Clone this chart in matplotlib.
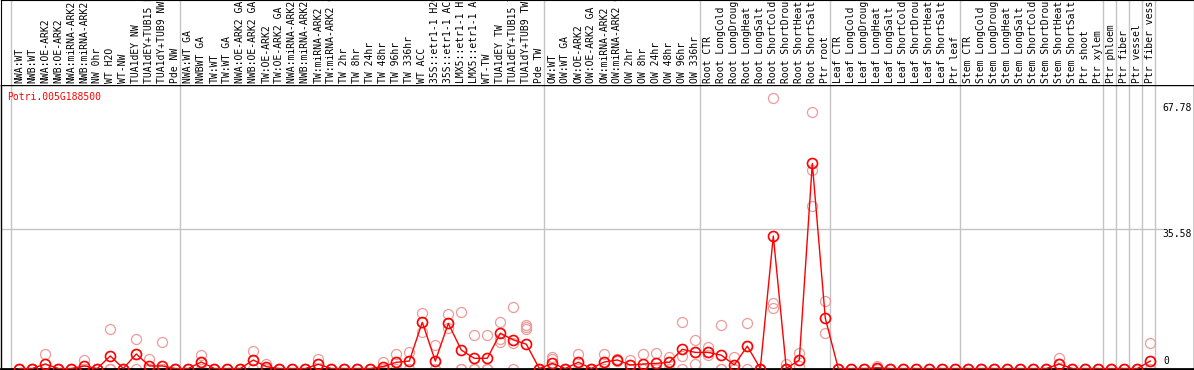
import numpy as np
import matplotlib.pyplot as plt
import matplotlib.transforms as mtransforms

# sample names (top strip)
samples = [
    "NWA:WT", "NWB:WT", "NWA:OE-ARK2", "NWB:OE-ARK2", "NWA:miRNA-ARK2", "NWB:miRNA-ARK2",
    "NW 0hr", "WT H2O", "WT-NW", "TUA1dEY NW", "TUA1dEY+TUB15 NW", "TUA1dY+TUB9 NW", "Pde NW",
    "NWA:WT GA", "NWBWT GA", "TW:WT", "TW:WT GA", "NWA:OE-ARK2 GA", "NWB:OE-ARK2 GA",
    "TW:OE-ARK2", "TW:OE-ARK2 GA", "NWA:miRNA-ARK2 GA", "NWB:miRNA-ARK2 GA", "TW:miRNA-ARK2",
    "TW:miRNA-ARK2 GA", "TW 2hr", "TW 8hr", "TW 24hr", "TW 48hr", "TW 96hr", "TW 336hr",
    "WT ACC", "35S::etr1-1 H2O", "35S::etr1-1 ACC", "LMX5::etr1-1 H2O", "LMX5::etr1-1 ACC",
    "WT-TW", "TUA1dEY TW", "TUA1dEY+TUB15 TW", "TUA1dY+TUB9 TW", "Pde TW",
    "OW:WT", "OW:WT GA", "OW:OE-ARK2", "OW:OE-ARK2 GA", "OW:miRNA-ARK2", "OW:miRNA-ARK2 GA",
    "OW 2hr", "OW 8hr", "OW 24hr", "OW 48hr", "OW 96hr", "OW 336hr",
    "Root CTR", "Root LongCold", "Root LongDrought", "Root LongHeat", "Root LongSalt",
    "Root ShortCold", "Root ShortDrought", "Root ShortHeat", "Root ShortSalt", "Ptr root",
    "Leaf CTR", "Leaf LongCold", "Leaf LongDrought", "Leaf LongHeat", "Leaf LongSalt",
    "Leaf ShortCold", "Leaf ShortDrought", "Leaf ShortHeat", "Leaf ShortSalt", "Ptr leaf",
    "Stem CTR", "Stem LongCold", "Stem LongDrought", "Stem LongHeat", "Stem LongSalt",
    "Stem ShortCold", "Stem ShortDrought", "Stem ShortHeat", "Stem ShortSalt", "Ptr shoot",
    "Ptr xylem", "Ptr phloem", "Ptr fiber", "Ptr vessel", "Ptr fiber vessel",
]
group_sizes = [13, 28, 12, 10, 10, 11, 1, 1, 1, 1]

gene = "Potri.005G188500"
tick_values = [67.78, 35.58, 0]

# mean expression per sample
mean = [
    0, 0, 1.15, 0, 0, 0.64, 0, 3.2, 0, 3.7, 0.64, 0.64, 0,
    0, 1.66, 0, 0, 0, 2.17, 0.46, 0, 0, 0, 1.1, 0, 0, 0, 0, 0.5, 1.58, 1.9,
    11.8, 1.9, 11.5, 4.7, 2.6, 2.6, 9.0, 7.3, 6.2, 0,
    1.3, 0, 1.6, 0, 1.66, 2.17, 0.9, 1.15, 1.3, 1.6, 4.9, 4.1,
    4.1, 3.4, 0.9, 5.7, 0, 33.8, 0, 2.17, 52.3, 12.8,
    0, 0, 0, 0.2, 0, 0, 0, 0, 0, 0,
    0, 0, 0, 0, 0, 0, 0, 1.15, 0, 0, 0,
    0, 0, 0, 1.9,
]

nan = np.nan
# individual replicates
rep_a = [
    3.7 * 0, 0, 3.7, 0, 0, 2.2, 0, 10.0, 0, 7.4, 2.3, 6.7, 0,
    0, 3.4, 0, 0, 0, 4.5, 1.15, 0, 0, 0, 2.5, 0, 0, 0, 0, 1.6, 3.7, 4.1,
    14.1, 6.0, 13.9, 14.3, 8.5, 8.5, 11.8, 15.8, 11.1, 0,
    2.85, 0, 3.6, 0, 3.7, 2.3, 2.2, 3.7, 4.0, 3.0, 11.8, 7.3,
    5.4, 11.1, 2.85, 11.5, 0, 68.9, 1.15, 3.9, 65.4, 17.2,
    0, 0, 0, 0.6, 0, 0, 0, 0, 0, 0,
    0, 0, 0, 0, 0, 0, 0, 2.6, 0, 0, 0,
    0, 0, 0, 6.4,
]
rep_b = [
    0, 0, 0, 0, 0, 0, 0, 0, 0, 3.7, 0, 0, 0,
    0, 1.66, 0, 0, 0, 2.17, 0, 0, 0, 0, 1.1, 0, 0, 0, 0, 0, 1.58, 1.9,
    11.8, 1.9, 11.5, 0, 0, 0, 7.5, 6.6, 10.5, 0,
    2.4, 0, 1.6, 0, 1.66, 2.17, 0.9, 0, 0, 1.6, 3.2, 4.1,
    3.4, 0, 0, 5.7, 0, 16.8, 0, 2.17, 50.6, 9.0,
    0, 0, 0, 0, 0, 0, 0, 0, 0, 0,
    0, 0, 0, 0, 0, 0, 0, 1.15, 0, 0, 0,
    0, 0, 0, 1.9,
]
rep_c = [
    0, 0, 0, 0, 0, 0, 0, 0, 0, 0, 0, 0, 0,
    0, 0, 0, 0, 0, 0, 0, 0, 0, 0, 0, 0, 0, 0, 0, 0, 0, 0,
    9.2, 0, 10.3, 0, 0, 0, 6.8, 0, 10.0, 0,
    0, 0, 0, 0, 0, 2.0, 0, 0, 0, 0, 0, 1.15,
    4.1, 0, 0, 0, 0, 15.5, 0, 0.6, 41.5, nan,
    0, 0, 0, 0, 0, 0, 0, 0, 0, 0,
    0, 0, 0, 0, 0, 0, 0, 0, 0, 0, 0,
    0, 0, 0, 0,
]

W, H = 1194, 370
x0_px, step_px = 19.3, 13.0          # first sample position / spacing in pixels
y0_px, ppu = 368.5, 3.92              # zero line / pixels per unit
top_px = 85

xlim = ((0.5 - x0_px) / step_px, (1193.5 - x0_px) / step_px)
ylim = (0, (y0_px - top_px) / ppu)

mono = "DejaVu Sans Mono"
red = "#ff0000"
pale = "#ee9a9a"
grid = "#c4c4c4"

fig = plt.figure(figsize=(W / 100, H / 100), dpi=100)
ax = fig.add_axes([0.5 / W, (H - y0_px) / H, 1193 / W, (y0_px - top_px) / H])
lab = fig.add_axes([0.5 / W, (H - top_px) / H, 1193 / W, top_px / H])

x = np.arange(len(samples))
bounds = np.cumsum([0] + group_sizes) - 0.64
for a in (ax, lab):
    a.set_xlim(*xlim)
    for b in bounds:
        a.axvline(b, color=grid, lw=1, zorder=0)
    a.set_xticks([])
    a.set_yticks([])

ax.set_ylim(*ylim)
ax.axhline(35.58, xmax=1163 / 1193, color=grid, lw=1, zorder=0)

for reps in (rep_a, rep_b, rep_c):
    ax.plot(x, reps, ls="none", marker="o", ms=7.2, mfc="none", mec=pale, mew=0.9, zorder=2)
ax.plot(x, mean, color=red, lw=1.0, marker="o", ms=7.2, mfc="none", mec=red, mew=1.2, zorder=3)

for sp in ax.spines.values():
    sp.set_color("black")
    sp.set_linewidth(1)
ax.spines["bottom"].set_linewidth(2)

ax.text(6.5 / 1193, (y0_px - 92) / (y0_px - top_px), gene, transform=ax.transAxes,
        color=red, fontsize=7, family=mono, va="top", ha="left")

tr = mtransforms.blended_transform_factory(ax.transAxes, ax.transData)
ax.text(1191.5 / 1193, tick_values[0], f"{tick_values[0]:g}", transform=tr,
        fontsize=7, family=mono, va="top", ha="right")
ax.text(1191.5 / 1193, tick_values[1], f"{tick_values[1]:g}", transform=tr,
        fontsize=7, family=mono, va="top", ha="right")
ax.text(1163 / 1193, tick_values[2] + 0.6, f"{tick_values[2]:g}", transform=tr,
        fontsize=7, family=mono, va="bottom", ha="left")

lab.set_ylim(0, 1)
lab.spines["bottom"].set_visible(False)
trl = mtransforms.blended_transform_factory(lab.transData, lab.transAxes)
for i, name in enumerate(samples):
    lab.text(i, 2 / top_px, name, transform=trl, rotation=90, fontsize=7,
             family=mono, ha="center", va="bottom", rotation_mode="anchor" if False else "default")

fig.savefig("out.png", dpi=100)
